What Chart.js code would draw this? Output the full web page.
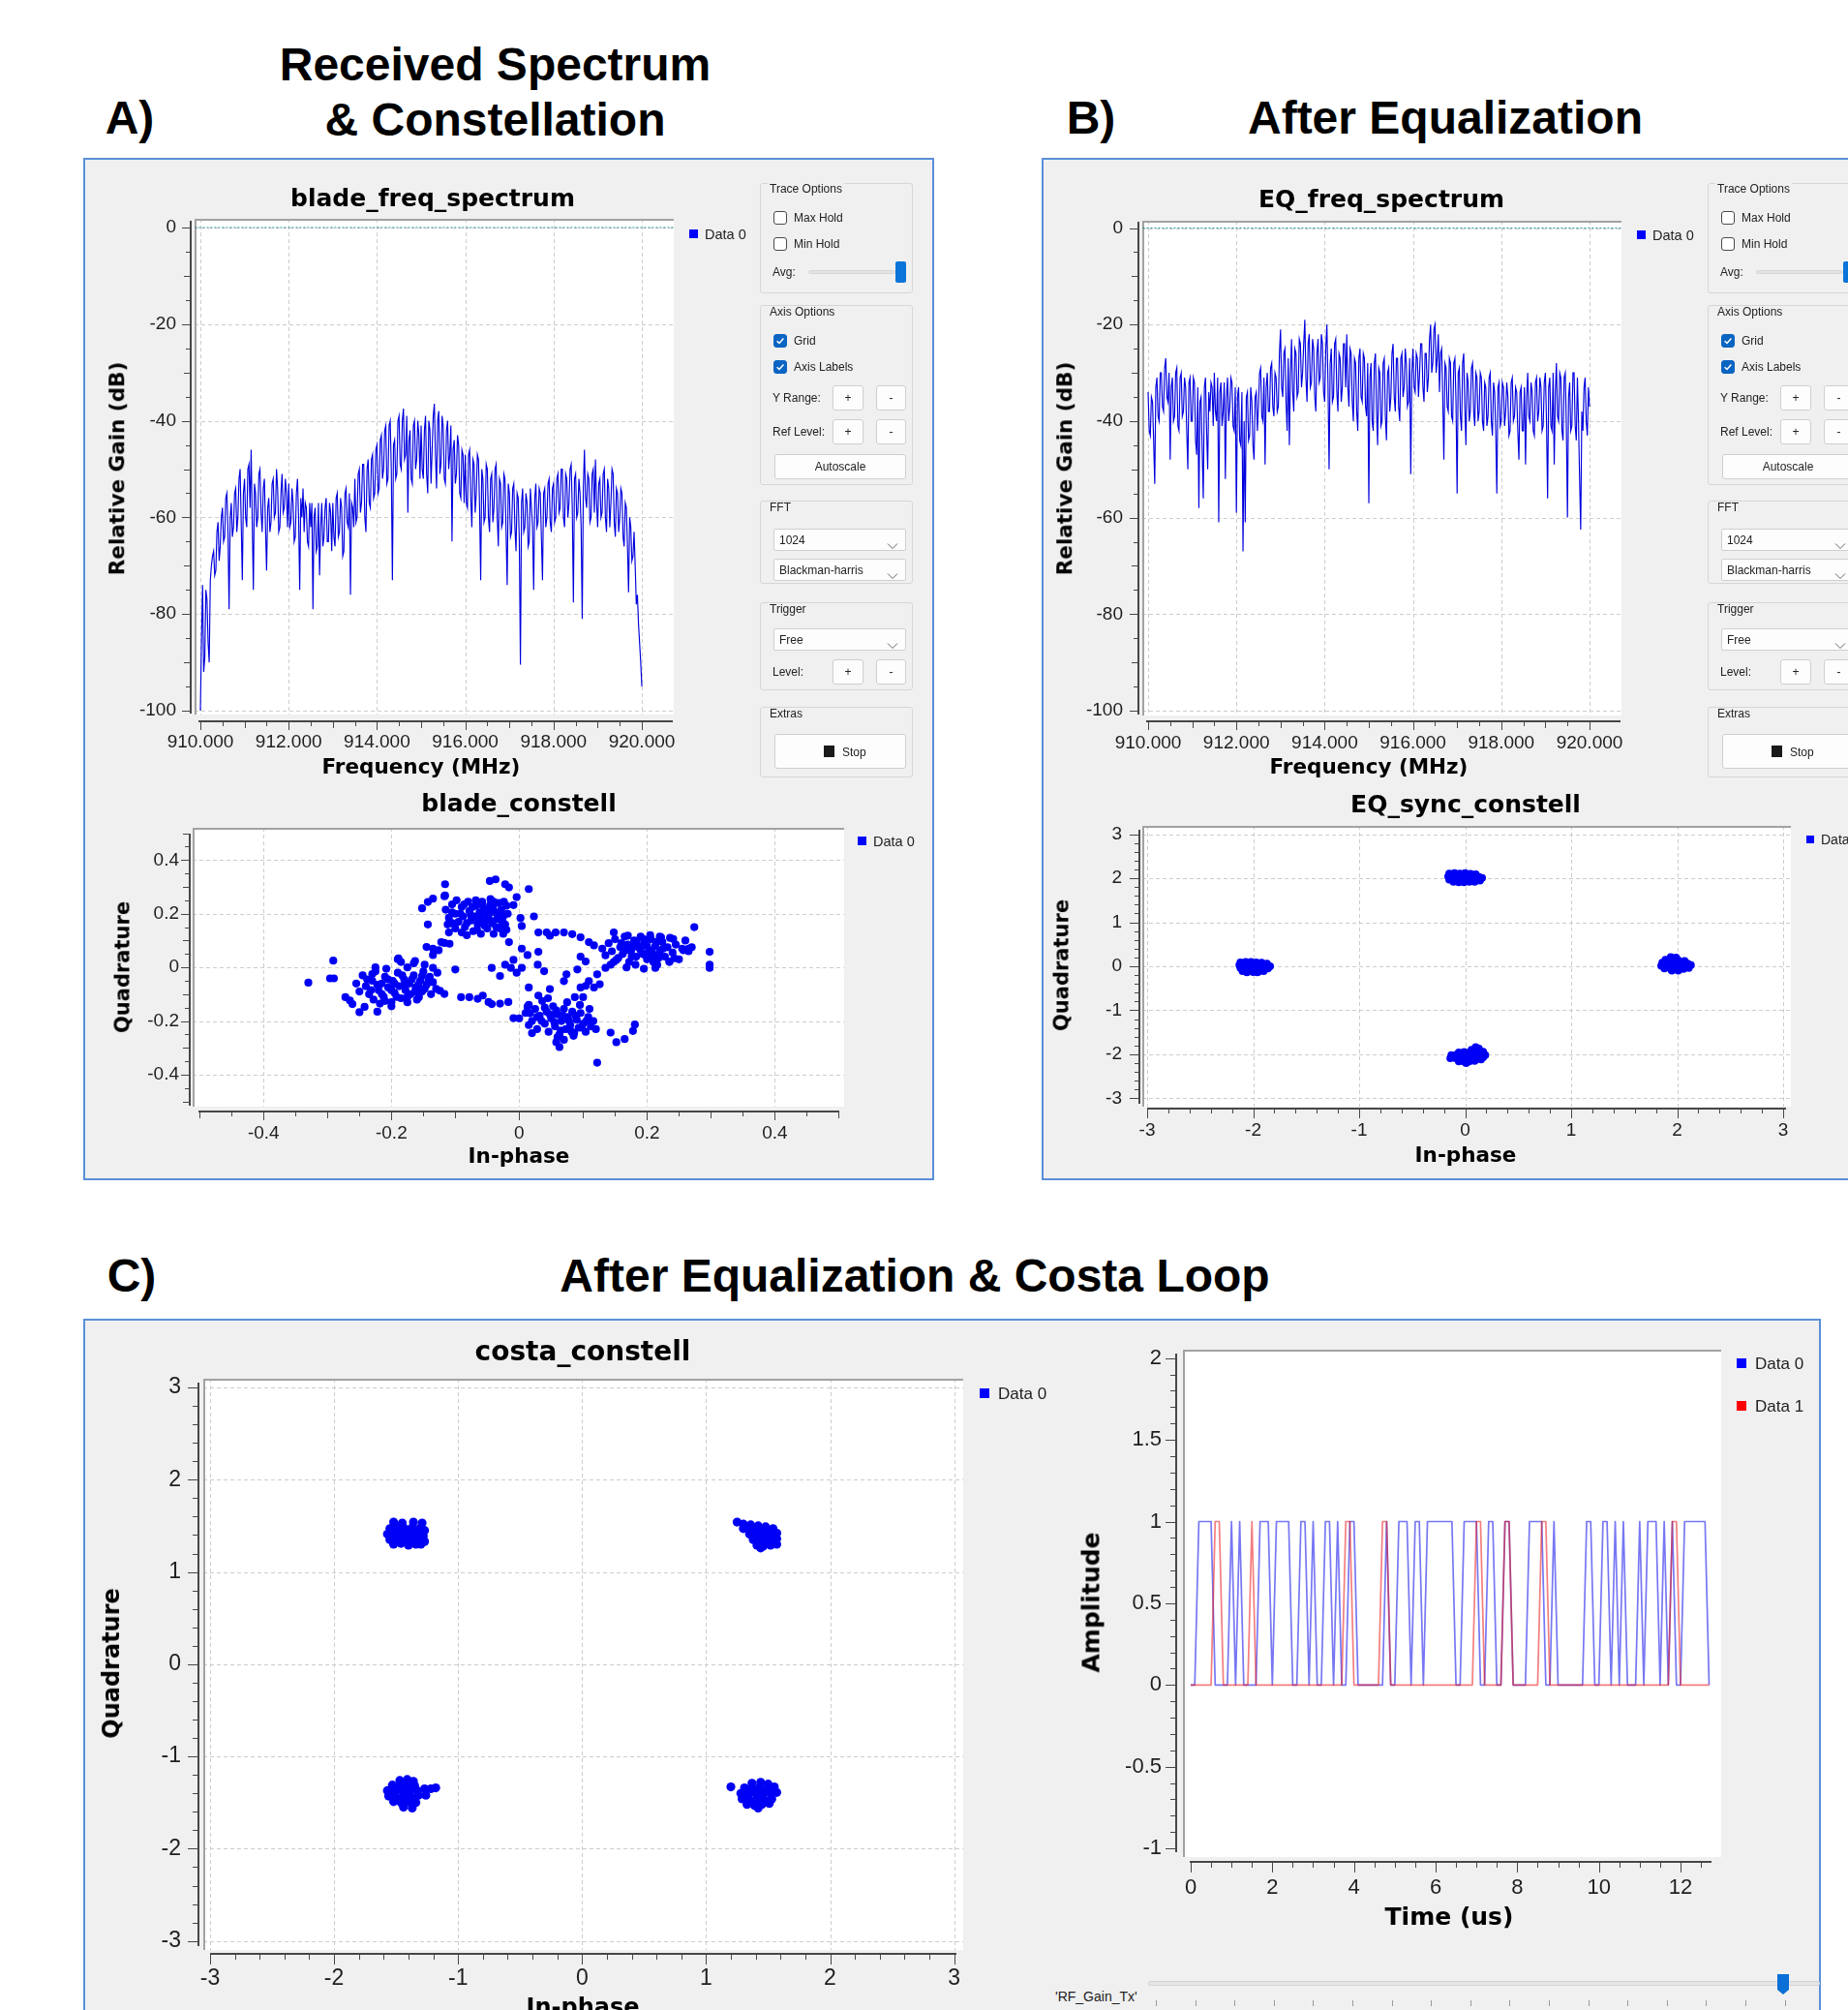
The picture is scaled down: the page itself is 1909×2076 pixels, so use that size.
<!DOCTYPE html>
<html>
<head>
<meta charset="utf-8">
<title>Received Spectrum, Equalization and Costas Loop</title>
<script src="https://cdn.jsdelivr.net/npm/chart.js@4.4.1/dist/chart.umd.min.js"></script>
<style>
html,body{margin:0;padding:0;}
body{width:1909px;height:2076px;overflow:hidden;background:#ffffff;position:relative;font-family:"Liberation Sans",Arial,sans-serif;}
.panel{position:absolute;background:#f0f0f0;border:2px solid #5b8fd9;box-sizing:border-box;}
.t{position:absolute;white-space:nowrap;line-height:1;}
canvas{position:absolute;}
</style>
</head>
<body>
<div class="panel" style="left:86px;top:163px;width:879px;height:1056px"></div>
<div class="panel" style="left:1076px;top:163px;width:860px;height:1056px"></div>
<div class="panel" style="left:86px;top:1362px;width:1795px;height:760px"></div>
<script>
// ======================= DATA =======================
// Spectrum sinks (FFT bins, MHz / dB), one row = 0.5 MHz
const specFreqStartMHz = 910.0;
const specBinStepMHz = 0.025;
const bladeSpectrumDb = [
 -100,-85,-74,-92,-89,-75,-77,-86,-90,-73,-70,-68,-67,-72,-71,-63,-61,-69,-66,-60,
 -58,-65,-64,-56,-55,-63,-79,-60,-57,-64,-62,-55,-54,-63,-60,-52,-50,-61,-73,-55,
 -52,-60,-62,-50,-49,-58,-46,-61,-75,-53,-55,-62,-60,-51,-50,-59,-63,-54,-52,-62,
 -71,-58,-56,-63,-61,-53,-52,-60,-59,-50,-54,-63,-62,-55,-51,-59,-58,-52,-55,-62,
 -53,-62,-61,-54,-57,-65,-64,-55,-52,-60,-75,-56,-60,-54,-63,-57,-58,-65,-66,-57,
 -62,-57,-79,-60,-58,-67,-66,-57,-72,-62,-57,-66,-64,-58,-56,-65,-65,-57,-59,-67,
 -57,-64,-66,-56,-55,-64,-63,-56,-58,-68,-67,-55,-54,-61,-62,-55,-76,-57,-58,-62,
 -52,-61,-60,-51,-50,-59,-57,-49,-49,-60,-63,-50,-48,-57,-58,-48,-47,-56,-55,-46,
 -45,-55,-54,-44,-43,-52,-50,-42,-41,-53,-52,-41,-40,-50,-73,-45,-44,-52,-51,-40,
 -39,-49,-50,-40,-37.5,-48,-47,-39,-59,-44,-42,-52,-53,-41,-40,-50,-48,-40,-43,-52,
 -41,-50,-52,-42,-39,-51,-55,-40,-42,-53,-46,-39,-36.5,-47,-54,-40,-38,-51,-49,-39,
 -41,-52,-53,-42,-40,-50,-47,-41,-65,-46,-44,-53,-51,-43,-45,-55,-56,-46,-47,-57,
 -47,-57,-58,-47,-46,-56,-62,-48,-49,-59,-55,-47,-48,-58,-73,-50,-52,-61,-60,-49,
 -50,-60,-63,-52,-51,-61,-58,-50,-49,-60,-66,-52,-53,-62,-61,-51,-52,-63,-74,-53,
 -55,-64,-63,-54,-53,-62,-67,-55,-56,-65,-90.5,-57,-54,-63,-62,-55,-57,-66,-65,-54,
 -58,-62,-75,-56,-53,-62,-61,-54,-55,-64,-73,-55,-54,-62,-60,-53,-52,-61,-63,-54,
 -53,-61,-60,-52,-51,-59,-58,-50,-50,-60,-62,-51,-52,-60,-57,-50,-49,-58,-77.6,-52,
 -51,-60,-59,-52,-55,-62,-81,-54,-46,-56,-58,-51,-52,-61,-60,-51,-50,-59,-48,-57,
 -62,-53,-52,-60,-59,-51,-50,-60,-63,-52,-54,-62,-57,-50,-51,-61,-64,-54,-55,-63,
 -60,-54,-55,-64,-66,-57,-58,-66,-75.5,-60,-62,-69,-68,-63,-70,-78,-76,-82,-86,-90,
 -95];
const eqSpectrumDb = [
 -34,-42,-43,-35,-36,-44,-53,-33,-31,-39,-40,-30,-30,-37,-38,-29,-27,-35,-36,-30,
 -48,-33,-31,-40,-39,-30,-29,-41,-42,-31,-30,-39,-38,-31,-33,-42,-50,-32,-31,-40,
 -40,-31,-32,-44,-47,-33,-58,-36,-35,-46,-56,-33,-31,-42,-50,-34,-38,-32,-33,-41,
 -30,-38,-40,-31,-61,-34,-32,-41,-38,-32,-52,-35,-31,-40,-37,-31,-32,-41,-42,-33,
 -59,-35,-33,-44,-45,-34,-67,-40,-61,-35,-34,-44,-43,-33,-36,-45,-48,-35,-34,-42,
 -37,-30,-29,-39,-40,-31,-49,-33,-30,-38,-38,-29,-28,-37,-39,-30,-31,-38,-37,-26,
 -21,-33,-35,-26,-25,-36,-42,-27,-45,-30,-23,-34,-38,-25,-26,-35,-34,-23,-24,-33,
 -30,-24,-19,-31,-36,-24,-22,-33,-32,-23,-25,-35,-38,-26,-23,-32,-31,-22,-24,-34,
 -36,-25,-20,-32,-50,-28,-25,-36,-35,-24,-23,-34,-38,-26,-27,-36,-33,-24,-24,-33,
 -22,-33,-37,-25,-26,-36,-40,-27,-28,-38,-42,-27,-25,-35,-36,-26,-27,-37,-39,-28,
 -57,-31,-28,-40,-42,-28,-26,-38,-45,-29,-30,-41,-40,-28,-27,-39,-44,-30,-29,-38,
 -35,-26,-24,-35,-38,-27,-27,-37,-40,-27,-26,-35,-33,-25,-28,-37,-36,-27,-51,-30,
 -25,-33,-34,-26,-27,-35,-30,-24,-24,-33,-36,-26,-26,-34,-31,-23,-20,-30,-28,-21,
 -20,-30,-27,-22,-34,-26,-25,-35,-48,-28,-29,-37,-38,-27,-28,-39,-40,-28,-27,-36,
 -55,-30,-29,-39,-42,-28,-26,-37,-45,-30,-32,-40,-38,-29,-28,-38,-41,-30,-31,-40,
 -38,-30,-31,-40,-42,-32,-33,-41,-39,-31,-30,-40,-43,-32,-34,-42,-55,-33,-32,-41,
 -40,-32,-33,-41,-38,-32,-35,-43,-42,-32,-31,-40,-39,-33,-34,-42,-48,-34,-33,-42,
 -42,-33,-49,-35,-30,-39,-40,-32,-34,-42,-43,-32,-31,-40,-38,-31,-33,-42,-41,-32,
 -30,-40,-56,-33,-31,-41,-42,-30,-49,-34,-28,-39,-40,-30,-31,-42,-44,-31,-30,-41,
 -60,-35,-32,-42,-41,-30,-30,-41,-44,-31,-40,-52,-62.5,-38,-42,-33,-31,-40,-43,-33,
 -37];
const refLevelDb = 0;
const specFreqTicks = [910, 912, 914, 916, 918, 920];
const specFreqTickLabels = ['910.000','912.000','914.000','916.000','918.000','920.000'];
const specGainTicks = [-100, -80, -60, -40, -20, 0];
const specGainTickLabels = ['-100','-80','-60','-40','-20','0'];

// blade_constell (In-phase, Quadrature)
const bladeConstellIQ = [
 // upper cluster
 [-0.115,0.215],[-0.105,0.235],[-0.1,0.2],[-0.095,0.17],[-0.09,0.225],[-0.088,0.19],[-0.085,0.15],[-0.08,0.245],[-0.078,0.21],[-0.075,0.175],
 [-0.072,0.135],[-0.07,0.19],[-0.068,0.23],[-0.065,0.16],[-0.062,0.205],[-0.06,0.125],[-0.058,0.245],[-0.055,0.18],[-0.052,0.215],[-0.05,0.145],
 [-0.048,0.195],[-0.045,0.235],[-0.042,0.165],[-0.04,0.125],[-0.038,0.205],[-0.035,0.18],[-0.032,0.24],[-0.03,0.145],[-0.028,0.215],[-0.025,0.19],
 [-0.022,0.16],[-0.02,0.23],[-0.09,0.13],[-0.082,0.12],[-0.1,0.145],[-0.11,0.185],[-0.068,0.25],[-0.045,0.255],[-0.025,0.125],[-0.018,0.2],
 [-0.112,0.16],[-0.105,0.205],[-0.098,0.25],[-0.092,0.2],[-0.086,0.235],[-0.082,0.165],[-0.076,0.195],[-0.073,0.225],[-0.066,0.14],[-0.063,0.175],
 [-0.057,0.23],[-0.054,0.155],[-0.05,0.2],[-0.046,0.175],[-0.041,0.22],[-0.036,0.15],[-0.033,0.195],[-0.027,0.17],[-0.024,0.245],[-0.02,0.14],
 [-0.105,0.165],[-0.06,0.19],[-0.04,0.245],
 // left cluster
 [-0.245,-0.03],[-0.24,-0.07],[-0.235,-0.1],[-0.23,-0.05],[-0.228,-0.12],[-0.225,-0.015],[-0.22,-0.085],[-0.215,-0.06],[-0.212,-0.11],[-0.21,-0.035],
 [-0.205,-0.075],[-0.2,-0.13],[-0.198,-0.05],[-0.195,-0.095],[-0.19,-0.02],[-0.188,-0.07],[-0.185,-0.115],[-0.18,-0.045],[-0.178,-0.085],[-0.175,0.0],
 [-0.172,-0.06],[-0.17,-0.1],[-0.165,-0.03],[-0.162,-0.075],[-0.16,-0.12],[-0.155,-0.05],[-0.152,-0.09],[-0.15,-0.015],[-0.145,-0.065],[-0.14,-0.035],
 [-0.138,-0.1],[-0.135,-0.055],[-0.13,-0.08],[-0.128,-0.02],[-0.25,-0.09],[-0.208,-0.005],[-0.185,0.02],[-0.19,0.03],[-0.165,0.015],[-0.225,0.0],
 [-0.255,-0.06],[-0.218,-0.135],[-0.2,-0.145],[-0.175,-0.13],[-0.238,-0.045],[-0.232,-0.085],[-0.222,-0.065],[-0.215,-0.1],[-0.205,-0.045],[-0.2,-0.085],
 [-0.195,-0.06],[-0.192,-0.11],[-0.183,-0.03],[-0.18,-0.065],[-0.175,-0.11],[-0.168,-0.045],[-0.163,-0.09],[-0.158,-0.065],[-0.148,-0.08],[-0.142,-0.05],
 [-0.21,-0.125],[-0.23,-0.025],
 // right cluster
 [0.13,0.07],[0.135,0.045],[0.14,0.09],[0.145,0.06],[0.15,0.105],[0.155,0.035],[0.158,0.075],[0.162,0.05],[0.165,0.115],[0.17,0.085],
 [0.172,0.02],[0.175,0.06],[0.18,0.1],[0.183,0.04],[0.186,0.075],[0.19,0.115],[0.193,0.05],[0.196,0.09],[0.2,0.03],[0.203,0.065],
 [0.206,0.105],[0.21,0.045],[0.213,0.08],[0.216,0.01],[0.22,0.06],[0.224,0.095],[0.228,0.04],[0.232,0.075],[0.236,0.11],[0.24,0.055],
 [0.245,0.085],[0.25,0.03],[0.255,0.07],[0.26,0.1],[0.168,0.0],[0.182,0.01],[0.195,-0.005],[0.205,0.12],[0.148,0.02],[0.265,0.06],
 [0.27,0.075],[0.235,0.02],[0.22,0.115],[0.16,0.09],[0.168,0.065],[0.176,0.04],[0.184,0.09],[0.19,0.065],[0.198,0.045],[0.2,0.08],
 [0.208,0.055],[0.215,0.095],[0.218,0.035],[0.225,0.07],[0.178,0.078],[0.195,0.105],[0.21,0.02],
 // lower cluster
 [0.01,-0.17],[0.015,-0.14],[0.02,-0.2],[0.025,-0.155],[0.028,-0.23],[0.032,-0.18],[0.036,-0.125],[0.04,-0.21],[0.043,-0.165],[0.046,-0.24],
 [0.05,-0.19],[0.053,-0.145],[0.056,-0.22],[0.06,-0.175],[0.063,-0.25],[0.066,-0.2],[0.07,-0.155],[0.073,-0.23],[0.076,-0.185],[0.08,-0.215],
 [0.083,-0.165],[0.086,-0.245],[0.09,-0.195],[0.093,-0.225],[0.096,-0.17],[0.1,-0.21],[0.104,-0.24],[0.108,-0.185],[0.112,-0.22],[0.116,-0.2],
 [0.12,-0.23],[0.045,-0.115],[0.03,-0.105],[0.075,-0.13],[0.095,-0.14],[0.06,-0.26],[0.07,-0.27],[0.11,-0.155],[0.0,-0.19],[0.02,-0.245],
 [0.085,-0.255],[0.035,-0.2],[0.04,-0.15],[0.048,-0.175],[0.055,-0.205],[0.058,-0.16],[0.065,-0.235],[0.068,-0.18],[0.078,-0.2],[0.082,-0.24],
 [0.088,-0.18],[0.098,-0.225],[0.105,-0.2],[0.028,-0.185],[0.015,-0.215],
 // transitions and outliers
 [-0.33,-0.057],[-0.291,0.025],[-0.296,-0.041],[-0.29,-0.041],[-0.272,-0.111],[-0.265,-0.123],[-0.261,-0.137],[-0.25,-0.167],[-0.222,-0.165],[-0.242,-0.147],
 [-0.189,0.034],[-0.163,0.024],[-0.148,0.01],[-0.152,-0.032],[-0.135,-0.002],[-0.157,-0.111],[-0.124,-0.087],[-0.117,-0.099],[-0.1,-0.008],
 [-0.145,0.076],[-0.135,0.07],[-0.126,0.064],[-0.117,0.091],[-0.109,0.088],[-0.11,0.13],[-0.135,0.046],[-0.122,0.094],
 [-0.152,0.22],[-0.143,0.244],[-0.135,0.256],[-0.117,0.265],[-0.116,0.31],[-0.116,0.268],[-0.143,0.16],[-0.046,0.322],[-0.037,0.328],[-0.022,0.31],
 [-0.016,0.298],[0.015,0.292],[-0.004,0.262],[-0.009,0.232],[-0.026,0.172],[-0.016,0.094],[0.002,0.184],[0.023,0.19],[0.004,0.154],[0.03,0.13],
 [-0.078,-0.111],[-0.057,-0.105],[-0.048,-0.129],[-0.03,-0.135],[-0.017,-0.129],[-0.043,-0.137],[-0.065,-0.117],[-0.091,-0.111],
 [0.004,0.07],[0.013,0.046],[0.004,-0.002],[-0.013,-0.002],[-0.043,-0.002],[-0.03,-0.032],[-0.022,0.01],[0.015,-0.075],[0.029,0.01],[0.039,-0.014],
 [0.03,0.058],[-0.004,-0.02],[-0.009,0.028],
 [0.043,0.13],[0.057,0.13],[0.07,0.13],[0.083,0.124],[0.096,0.112],[0.109,0.094],[0.117,0.082],[0.048,0.118],
 [0.048,-0.081],[0.07,-0.051],[0.091,-0.008],[0.096,0.04],[0.104,0.022],[0.1,-0.111],[0.122,-0.026],[0.135,-0.002],[0.143,0.01],[0.152,0.028],
 [0.109,-0.051],[0.117,-0.075],[0.126,-0.063],[0.087,-0.111],[0.104,-0.069],[0.096,-0.075],[0.074,-0.026],
 [0.274,0.15],[0.298,0.058],[0.298,0.01],[0.298,-0.002],[0.148,0.13],[0.17,0.118],[0.222,0.112],[0.241,0.106],[0.213,-0.002],[0.235,0.022],
 [0.243,0.034],[0.257,0.064],[0.265,0.07],
 [-0.009,-0.189],[0.013,-0.147],[0.017,-0.171],[0.063,-0.297],[0.143,-0.243],[0.152,-0.279],[0.165,-0.267],[0.178,-0.237],[0.181,-0.213],[0.122,-0.355],
 [0.058,-0.279]
];
const bladeIqTicks = [-0.4, -0.2, 0, 0.2, 0.4];
const bladeIqTickLabels = ['-0.4','-0.2','0','0.2','0.4'];

// EQ_sync_constell
const eqSyncConstellIQ = [
 [-0.15,2.11],[-0.1,2.12],[-0.05,2.11],[0.0,2.12],[0.05,2.1],[0.1,2.09],[-0.16,2.04],[-0.11,2.05],[-0.06,2.04],[-0.01,2.05],
 [0.04,2.04],[0.09,2.03],[0.13,2.03],[0.16,2.01],[-0.15,1.97],[-0.1,1.98],[-0.05,1.97],[0.0,1.98],[0.05,1.97],[0.1,1.96],
 [0.14,1.95],[-0.11,1.92],[-0.06,1.91],[-0.01,1.91],[0.04,1.92],[0.09,1.92],
 [-2.12,0.09],[-2.07,0.1],[-2.02,0.1],[-1.97,0.09],[-1.92,0.08],[-1.87,0.06],[-2.13,0.03],[-2.08,0.04],[-2.03,0.03],[-1.98,0.02],
 [-1.93,0.03],[-1.88,0.01],[-1.84,0.0],[-2.12,-0.04],[-2.07,-0.03],[-2.02,-0.05],[-1.97,-0.04],[-1.92,-0.06],[-1.86,-0.05],[-2.1,-0.11],
 [-2.05,-0.12],[-2.0,-0.13],[-1.95,-0.12],[-1.9,-0.11],[-2.06,-0.14],[-1.96,-0.14],
 [1.94,0.21],[1.99,0.2],[1.89,0.15],[1.95,0.15],[2.01,0.14],[2.07,0.12],[1.86,0.08],[1.92,0.08],[1.98,0.07],[2.04,0.08],
 [2.1,0.06],[2.13,0.03],[1.85,0.01],[1.91,0.0],[1.97,0.01],[2.03,0.0],[2.09,-0.01],[1.88,-0.05],[1.94,-0.06],[2.0,-0.05],
 [2.06,-0.06],[2.11,-0.04],[1.95,-0.1],[2.01,-0.1],
 [0.1,-1.84],[0.13,-1.87],[0.06,-1.9],[0.12,-1.92],[0.17,-1.94],[-0.06,-1.96],[-0.01,-1.95],[0.04,-1.96],[0.09,-1.97],[0.15,-1.99],
 [0.19,-2.02],[-0.13,-2.02],[-0.08,-2.01],[-0.03,-2.03],[0.02,-2.02],[0.07,-2.03],[0.12,-2.04],[0.17,-2.07],[-0.14,-2.09],[-0.09,-2.09],
 [-0.04,-2.1],[0.01,-2.09],[0.06,-2.1],[0.11,-2.11],[0.15,-2.12],[-0.06,-2.16],[-0.01,-2.17],[0.04,-2.16],[0.09,-2.15],[0.01,-2.2]
];
// costa_constell
const costaConstellIQ = [
 [-1.52,1.54],[-1.45,1.53],[-1.36,1.54],[-1.29,1.53],[-1.55,1.47],[-1.49,1.48],[-1.43,1.47],[-1.37,1.48],[-1.31,1.47],[-1.27,1.45],
 [-1.57,1.41],[-1.51,1.42],[-1.45,1.41],[-1.39,1.42],[-1.33,1.41],[-1.28,1.39],[-1.55,1.35],[-1.49,1.36],[-1.43,1.35],[-1.37,1.36],
 [-1.31,1.35],[-1.27,1.33],[-1.52,1.3],[-1.46,1.31],[-1.4,1.29],[-1.34,1.3],[-1.3,1.3],
 [1.25,1.54],[1.3,1.52],[1.36,1.51],[1.42,1.5],[1.48,1.49],[1.54,1.47],[1.3,1.47],[1.35,1.46],[1.41,1.45],[1.47,1.44],
 [1.53,1.43],[1.57,1.42],[1.35,1.41],[1.4,1.4],[1.46,1.39],[1.52,1.38],[1.57,1.36],[1.38,1.35],[1.43,1.34],[1.49,1.33],
 [1.55,1.32],[1.41,1.29],[1.46,1.28],[1.52,1.29],[1.44,1.26],[1.57,1.3],
 [-1.47,-1.26],[-1.41,-1.25],[-1.36,-1.27],[-1.53,-1.31],[-1.47,-1.32],[-1.41,-1.31],[-1.35,-1.32],[-1.57,-1.37],[-1.51,-1.38],[-1.45,-1.37],
 [-1.39,-1.38],[-1.33,-1.37],[-1.27,-1.35],[-1.22,-1.35],[-1.18,-1.34],[-1.56,-1.43],[-1.5,-1.44],[-1.44,-1.43],[-1.38,-1.44],[-1.32,-1.42],
 [-1.26,-1.42],[-1.52,-1.49],[-1.46,-1.5],[-1.4,-1.49],[-1.34,-1.5],[-1.44,-1.55],[-1.37,-1.56],
 [1.2,-1.33],[1.37,-1.29],[1.44,-1.28],[1.5,-1.3],[1.31,-1.34],[1.37,-1.35],[1.43,-1.34],[1.49,-1.35],[1.55,-1.33],[1.28,-1.4],
 [1.34,-1.41],[1.4,-1.4],[1.46,-1.41],[1.52,-1.4],[1.57,-1.39],[1.29,-1.46],[1.35,-1.47],[1.41,-1.46],[1.47,-1.47],[1.53,-1.46],
 [1.33,-1.52],[1.39,-1.53],[1.45,-1.52],[1.51,-1.51],[1.42,-1.56]
];
const unitIqTicks = [-3, -2, -1, 0, 1, 2, 3];
const unitIqTickLabels = ['-3','-2','-1','0','1','2','3'];

// Time sink: decided bits, one sample every 0.1 us
const timeSampleStepUs = 0.1;
const costaBitsData0 = [
 0,0,1,1,1,1,0,0,0,0, 1,0,1,0,0,0,0,1,1,1, 0,1,1,1,1,0,0,1,1,0, 1,0,0,1,1,0,1,0,0,1,
 1,0,0,0,0,0,0,0,1,0, 0,1,1,1,0,1,1,0,1,1, 1,1,1,1,1,0,0,1,1,1, 1,0,0,1,1,0,0,1,1,0,
 0,0,0,1,1,1,1,0,0,1, 0,0,0,0,0,0,0,1,1,0, 0,1,1,0,1,0,1,0,0,0, 1,0,1,1,1,0,1,0,1,0,
 0,1,1,1,1,1,1,0];
const costaBitsData1 = [
 0,0,0,0,0,0,1,1,0,0, 0,0,0,0,0,1,0,0,0,0, 0,0,0,0,0,0,0,0,0,0, 0,0,0,0,0,0,0,0,1,1,
 0,0,0,0,0,0,0,1,1,0, 0,0,0,0,0,0,0,0,0,0, 0,0,0,0,0,0,0,0,0,0, 1,1,0,0,0,0,0,1,1,0,
 0,0,0,0,0,0,1,1,0,0, 0,0,0,0,0,0,0,0,0,0, 0,0,0,0,0,0,0,0,0,0, 0,0,0,0,0,0,0,0,1,1,
 0,0,0,0,0,0,0,0];
const timeTicks = [0, 2, 4, 6, 8, 10, 12];
const timeTickLabels = ['0','2','4','6','8','10','12'];
const ampTicks = [-1, -0.5, 0, 0.5, 1, 1.5, 2];
const ampTickLabels = ['-1','-0.5','0','0.5','1','1.5','2'];

// ======================= HELPERS =======================
const TICK_FAMILY = '"Liberation Sans", Arial, sans-serif';
const UI_FONT = '12px/1 "Liberation Sans", Arial, sans-serif';
const HEAD = 'bold 48px/1 "Liberation Sans", Arial, sans-serif';
const BOLD = s => 'bold ' + s + 'px/1 "DejaVu Sans", Verdana, sans-serif';

function el(tag, css, html) {
  const d = document.createElement(tag);
  d.style.cssText = css;
  if (html !== undefined) d.innerHTML = html;
  document.body.appendChild(d);
  return d;
}
function box(x, y, w, h, css) {
  return el('div', 'position:absolute;left:' + x + 'px;top:' + y + 'px;width:' + w + 'px;height:' + h + 'px;box-sizing:border-box;' + (css || ''));
}
function text(str, x, y, font, opt) {
  opt = opt || {};
  const d = document.createElement('div');
  d.className = 't';
  d.textContent = str;
  d.style.left = x + 'px';
  d.style.top = y + 'px';
  d.style.font = font;
  d.style.color = opt.color || '#000';
  const ax = opt.ax === undefined ? 0.5 : opt.ax;
  d.style.transform = opt.rot ? 'translate(-50%,-50%) rotate(' + opt.rot + 'deg)' : 'translate(' + (-ax * 100) + '%,-50%)';
  if (opt.bg) { d.style.background = opt.bg; d.style.padding = '0 2px'; }
  document.body.appendChild(d);
  return d;
}
function tickList(from, to, minor, major, medium) {
  const out = [], n = Math.round((to - from) / minor);
  for (let i = 0; i <= n; i++) {
    const v = from + i * minor;
    const r = v / major;
    let k = 2;
    if (Math.abs(r - Math.round(r)) < 1e-6) k = 0;
    else if (medium && Math.abs(2 * r - Math.round(2 * r)) < 1e-6) k = 1;
    out.push({ v: v, k: k });
  }
  return out;
}
function qwtDecor(q) {
  return {
    id: 'qwtDecor',
    beforeDatasetsDraw(chart) {
      const ctx = chart.ctx, a = chart.chartArea, xs = chart.scales.x, ys = chart.scales.y;
      ctx.save();
      ctx.fillStyle = '#ffffff';
      ctx.fillRect(a.left, a.top, a.right - a.left, a.bottom - a.top);
      if (q.grid) {
        ctx.strokeStyle = '#cdcdcd'; ctx.lineWidth = 1; ctx.setLineDash([4, 3]);
        ctx.beginPath();
        q.xTicks.forEach(v => { const p = Math.round(xs.getPixelForValue(v)) + 0.5; ctx.moveTo(p, a.top); ctx.lineTo(p, a.bottom); });
        q.yTicks.forEach(v => { const p = Math.round(ys.getPixelForValue(v)) + 0.5; ctx.moveTo(a.left, p); ctx.lineTo(a.right, p); });
        ctx.stroke();
        ctx.setLineDash([]);
      }
      ctx.fillStyle = '#a2a2a2';
      ctx.fillRect(a.left, a.top, a.right - a.left, 2);
      ctx.fillRect(a.left, a.top, 2, a.bottom - a.top);
      ctx.restore();
    },
    afterDraw(chart) {
      const ctx = chart.ctx, xs = chart.scales.x, ys = chart.scales.y;
      ctx.save();
      ctx.fillStyle = '#474747';
      ctx.fillRect(q.xb.x0, q.xb.y, q.xb.x1 - q.xb.x0, 2);
      ctx.fillRect(q.yb.x - 2, q.yb.y0, 2, q.yb.y1 - q.yb.y0);
      ctx.strokeStyle = '#474747'; ctx.lineWidth = 1;
      ctx.beginPath();
      tickList(q.xFrom, q.xTo, q.xMinor, q.xMajorStep, q.medium).forEach(t => {
        const p = Math.round(xs.getPixelForValue(t.v)) + 0.5;
        ctx.moveTo(p, q.xb.y + 2); ctx.lineTo(p, q.xb.y + 2 + q.len[t.k]);
      });
      tickList(q.yFrom, q.yTo, q.yMinor, q.yMajorStep, q.medium).forEach(t => {
        const p = Math.round(ys.getPixelForValue(t.v)) + 0.5;
        ctx.moveTo(q.yb.x - 2, p); ctx.lineTo(q.yb.x - 2 - q.len[t.k], p);
      });
      ctx.stroke();
      ctx.restore();
    }
  };
}
function makePlot(p) {
  const cv = document.createElement('canvas');
  cv.width = p.cw; cv.height = p.ch;
  cv.style.left = p.cx + 'px'; cv.style.top = p.cy + 'px';
  cv.style.width = p.cw + 'px'; cv.style.height = p.ch + 'px';
  document.body.appendChild(cv);
  const a = p.area;
  const padTop = a.t - p.cy, padRight = (p.cx + p.cw) - a.r;
  const yAxisW = a.l - p.cx, xAxisH = (p.cy + p.ch) - a.b;
  const xPad = p.xLabelCY - a.b - p.tickSize * 0.6;
  const yPad = a.l - p.yLabelRX;
  const kx = (p.xMap[2] - p.xMap[0]) / (p.xMap[3] - p.xMap[1]);
  const ky = (p.yMap[2] - p.yMap[0]) / (p.yMap[3] - p.yMap[1]);
  const xMin = p.xMap[0] + (a.l - p.xMap[1]) * kx, xMax = p.xMap[0] + (a.r - p.xMap[1]) * kx;
  const yMax = p.yMap[0] + (a.t - p.yMap[1]) * ky, yMin = p.yMap[0] + (a.b - p.yMap[1]) * ky;
  const q = {
    grid: p.grid, xTicks: p.xTicks, yTicks: p.yTicks, medium: p.medium, len: p.len,
    xFrom: p.xFrom, xTo: p.xTo, xMinor: p.xMinor, xMajorStep: p.xMajorStep,
    yFrom: p.yFrom, yTo: p.yTo, yMinor: p.yMinor, yMajorStep: p.yMajorStep,
    xb: { y: p.xBack.y - p.cy, x0: p.xBack.x0 - p.cx, x1: p.xBack.x1 - p.cx },
    yb: { x: p.yBack.x - p.cx, y0: p.yBack.y0 - p.cy, y1: p.yBack.y1 - p.cy }
  };
  return new Chart(cv, {
    type: 'scatter',
    data: { datasets: p.datasets },
    options: {
      responsive: false, animation: false, events: [], devicePixelRatio: 1,
      layout: { padding: { left: 0, top: padTop, right: padRight, bottom: 0 } },
      plugins: { legend: { display: false }, tooltip: { enabled: false } },
      scales: {
        x: {
          type: 'linear', position: 'bottom', min: xMin, max: xMax,
          grid: { display: false, drawTicks: false }, border: { display: false },
          afterBuildTicks: s => { s.ticks = p.xTicks.map(v => ({ value: v })); },
          afterFit: s => { s.height = xAxisH; },
          ticks: { padding: xPad, autoSkip: false, maxRotation: 0, minRotation: 0, color: '#1e1e1e',
            font: { family: TICK_FAMILY, size: p.tickSize }, callback: (v, i) => p.xLabels[i] }
        },
        y: {
          type: 'linear', position: 'left', min: yMin, max: yMax,
          grid: { display: false, drawTicks: false }, border: { display: false },
          afterBuildTicks: s => { s.ticks = p.yTicks.map(v => ({ value: v })); },
          afterFit: s => { s.width = yAxisW; },
          ticks: { padding: yPad, autoSkip: false, color: '#1e1e1e',
            font: { family: TICK_FAMILY, size: p.tickSize }, callback: (v, i) => p.yLabels[i] }
        }
      }
    },
    plugins: [qwtDecor(q)]
  });
}
const toSpectrum = arr => arr.map((v, i) => ({ x: specFreqStartMHz + i * specBinStepMHz, y: v }));
const toTime = arr => arr.map((v, k) => ({ x: k * timeSampleStepUs, y: v }));
const toIQ = arr => arr.map(pt => ({ x: pt[0], y: pt[1] }));
function refLine() {
  return { data: [{ x: 909, y: refLevelDb }, { x: 922, y: refLevelDb }], showLine: true, pointRadius: 0,
    borderColor: 'rgba(0,128,128,0.85)', borderWidth: 1, borderDash: [2, 2] };
}
function specSet(arr) {
  return { data: toSpectrum(arr), showLine: true, pointRadius: 0, borderColor: 'rgb(0,0,222)', borderWidth: 1.15, tension: 0 };
}
function iqSet(arr, r) {
  return { data: toIQ(arr), pointRadius: r, pointHoverRadius: r, backgroundColor: '#0000f4', borderWidth: 0, pointStyle: 'circle' };
}
function legendItem(x, y, size, color, label, fs, gap) {
  box(x, y, size, size, 'background:' + color + ';');
  text(label, x + size + gap, y + size / 2, fs + 'px/1 ' + TICK_FAMILY, { ax: 0, color: '#222' });
}

// ======================= HEADINGS =======================
text('Received Spectrum', 511.5, 66.5, HEAD);
text('& Constellation', 511.5, 123.5, HEAD);
text('A)', 134, 122, HEAD);
text('B)', 1127, 122, HEAD);
text('After Equalization', 1493, 122, HEAD);
text('C)', 136, 1318, HEAD);
text('After Equalization & Costa Loop', 945, 1318, HEAD);

// ======================= PLOTS =======================
// A: blade_freq_spectrum
makePlot({
  cx: 100, cy: 180, cw: 640, ch: 620, area: { l: 201, t: 226, r: 696, b: 738 },
  xMap: [910, 207, 920, 663], yMap: [0, 235, -100, 734],
  xTicks: specFreqTicks, xLabels: specFreqTickLabels, yTicks: specGainTicks, yLabels: specGainTickLabels,
  tickSize: 19, xLabelCY: 767, yLabelRX: 182, grid: true, medium: true, len: [8, 6, 4],
  xFrom: 910, xTo: 920, xMinor: 0.5, xMajorStep: 2, yFrom: -100, yTo: 0, yMinor: 5, yMajorStep: 20,
  xBack: { y: 744, x0: 205, x1: 695 }, yBack: { x: 198, y0: 228, y1: 737 },
  datasets: [refLine(), specSet(bladeSpectrumDb)]
});
// B: EQ_freq_spectrum
makePlot({
  cx: 1079, cy: 180, cw: 640, ch: 620, area: { l: 1180, t: 228, r: 1675, b: 739 },
  xMap: [910, 1186, 920, 1642], yMap: [0, 235.5, -100, 734],
  xTicks: specFreqTicks, xLabels: specFreqTickLabels, yTicks: specGainTicks, yLabels: specGainTickLabels,
  tickSize: 19, xLabelCY: 767.5, yLabelRX: 1160, grid: true, medium: true, len: [8, 6, 4],
  xFrom: 910, xTo: 920, xMinor: 0.5, xMajorStep: 2, yFrom: -100, yTo: 0, yMinor: 5, yMajorStep: 20,
  xBack: { y: 744, x0: 1184, x1: 1674 }, yBack: { x: 1177, y0: 229, y1: 738 },
  datasets: [refLine(), specSet(eqSpectrumDb)]
});
// A: blade_constell
makePlot({
  cx: 100, cy: 810, cw: 810, ch: 400, area: { l: 199, t: 855, r: 872, b: 1143 },
  xMap: [-0.4, 272.3, 0.4, 800.4], yMap: [0.4, 888.3, -0.4, 1110],
  xTicks: bladeIqTicks, xLabels: bladeIqTickLabels, yTicks: bladeIqTicks, yLabels: bladeIqTickLabels,
  tickSize: 19, xLabelCY: 1170.5, yLabelRX: 185, grid: true, medium: true, len: [8, 6, 4],
  xFrom: -0.5, xTo: 0.5, xMinor: 0.05, xMajorStep: 0.2, yFrom: -0.5, yTo: 0.5, yMinor: 0.05, yMajorStep: 0.2,
  xBack: { y: 1147, x0: 205, x1: 867 }, yBack: { x: 197, y0: 861, y1: 1142 },
  datasets: [iqSet(bladeConstellIQ, 4.1)]
});
// B: EQ_sync_constell
makePlot({
  cx: 1085, cy: 810, cw: 824, ch: 400, area: { l: 1180, t: 853, r: 1850, b: 1143 },
  xMap: [-3, 1185, 3, 1842], yMap: [3, 861.7, -3, 1134.3],
  xTicks: unitIqTicks, xLabels: unitIqTickLabels, yTicks: unitIqTicks, yLabels: unitIqTickLabels,
  tickSize: 19, xLabelCY: 1168, yLabelRX: 1159, grid: true, medium: false, len: [9, 6, 4],
  xFrom: -3, xTo: 3, xMinor: 0.2, xMajorStep: 1, yFrom: -3, yTo: 3, yMinor: 0.2, yMajorStep: 1,
  xBack: { y: 1144, x0: 1185, x1: 1845 }, yBack: { x: 1178, y0: 857, y1: 1140 },
  datasets: [iqSet(eqSyncConstellIQ, 4.0)]
});
// C: costa_constell
makePlot({
  cx: 95, cy: 1380, cw: 950, ch: 696, area: { l: 210, t: 1424, r: 995, b: 2014 },
  xMap: [-3, 217, 3, 985.6], yMap: [3, 1433, -3, 2004.7],
  xTicks: unitIqTicks, xLabels: unitIqTickLabels, yTicks: unitIqTicks, yLabels: unitIqTickLabels,
  tickSize: 23, xLabelCY: 2044, yLabelRX: 187, grid: true, medium: false, len: [10, 7, 5],
  xFrom: -3, xTo: 3, xMinor: 0.2, xMajorStep: 1, yFrom: -3, yTo: 3, yMinor: 0.2, yMajorStep: 1,
  xBack: { y: 2017, x0: 217, x1: 988 }, yBack: { x: 206, y0: 1428, y1: 2010 },
  datasets: [iqSet(costaConstellIQ, 4.6)]
});
// C: time sink
makePlot({
  cx: 1110, cy: 1350, cw: 720, ch: 640, area: { l: 1222, t: 1394, r: 1778, b: 1918 },
  xMap: [0, 1230, 12, 1736], yMap: [2, 1402.7, -1, 1909.1],
  xTicks: timeTicks, xLabels: timeTickLabels, yTicks: ampTicks, yLabels: ampTickLabels,
  tickSize: 22, xLabelCY: 1950, yLabelRX: 1200, grid: false, medium: false, len: [10, 7, 5],
  xFrom: 0, xTo: 12.5, xMinor: 0.5, xMajorStep: 2, yFrom: -1, yTo: 2, yMinor: 0.1, yMajorStep: 0.5,
  xBack: { y: 1922, x0: 1229, x1: 1768 }, yBack: { x: 1216, y0: 1398, y1: 1913 },
  datasets: [
    { label: 'Data 0', data: toTime(costaBitsData0), showLine: true, pointRadius: 0, borderColor: 'rgba(20,20,235,0.58)', borderWidth: 1.7, borderJoinStyle: 'round', order: 1 },
    { label: 'Data 1', data: toTime(costaBitsData1), showLine: true, pointRadius: 0, borderColor: 'rgba(235,20,20,0.55)', borderWidth: 1.7, borderJoinStyle: 'round', order: 0 }
  ]
});

// ======================= PLOT TITLES / AXIS LABELS =======================
text('blade_freq_spectrum', 447, 203.5, BOLD(25));
text('EQ_freq_spectrum', 1427, 204.5, BOLD(25));
text('blade_constell', 536, 829, BOLD(25));
text('EQ_sync_constell', 1514, 830, BOLD(25));
text('costa_constell', 602, 1396, BOLD(28));
text('Relative Gain (dB)', 120.5, 484, BOLD(21.5), { rot: -90 });
text('Frequency (MHz)', 435, 792, BOLD(21.5));
text('Relative Gain (dB)', 1099.5, 484, BOLD(21.5), { rot: -90 });
text('Frequency (MHz)', 1414, 792, BOLD(21.5));
text('Quadrature', 127, 999, BOLD(21), { rot: -90 });
text('In-phase', 536, 1194, BOLD(21.5));
text('Quadrature', 1097, 997, BOLD(21), { rot: -90 });
text('In-phase', 1514, 1193, BOLD(21.5));
text('Quadrature', 115, 1718, BOLD(24), { rot: -90 });
text('In-phase', 602, 2073, BOLD(24));
text('Amplitude', 1127, 1655, BOLD(25), { rot: -90 });
text('Time (us)', 1497, 1979, BOLD(25));

// legends
legendItem(712, 237, 9, '#0000ff', 'Data 0', 14.5, 7);
legendItem(1691, 238, 9, '#0000ff', 'Data 0', 14.5, 7);
legendItem(886, 864, 9, '#0000ff', 'Data 0', 14.5, 7);
legendItem(1866, 863, 8, '#0000ff', 'Data 0', 14, 7);
legendItem(1012, 1434, 10, '#0000ff', 'Data 0', 17, 9);
legendItem(1794, 1403, 10, '#0000ff', 'Data 0', 17, 9);
legendItem(1794, 1447, 10, '#ff0000', 'Data 1', 17, 9);

// ======================= CONTROL PANELS =======================
function group(x, top, bottom, label, labelY) {
  box(x, top, 158, bottom - top, 'border:1px solid #d6d6d6;border-radius:3px;');
  text(label, x + 8, labelY, UI_FONT, { ax: 0, bg: '#f0f0f0', color: '#222' });
}
function checkbox(x, y, on) {
  const b = box(x, y, 14, 14, on ? 'background:#0a64c2;border:1px solid #0a64c2;border-radius:3px;' : 'background:#ffffff;border:1px solid #4a4a4a;border-radius:3px;');
  if (on) b.innerHTML = '<svg width="12" height="12" viewBox="0 0 12 12" style="position:absolute;left:0;top:0"><path d="M2.6 6.2 L5 8.4 L9.4 3.6" stroke="#fff" stroke-width="1.5" fill="none"/></svg>';
}
function button(x, y, w, h, label) {
  box(x, y, w, h, 'background:#fdfdfd;border:1px solid #cfcfcf;border-radius:3px;');
  if (label) text(label, x + w / 2, y + h / 2, UI_FONT, { color: '#222' });
}
function combo(x, y, w, h, label) {
  box(x, y, w, h, 'background:#fdfdfd;border:1px solid #cfcfcf;border-radius:2px;');
  text(label, x + 6, y + h / 2, UI_FONT, { ax: 0, color: '#222' });
  el('div', 'position:absolute;left:' + (x + w - 20) + 'px;top:' + (y + h / 2 - 4) + 'px;width:12px;height:8px',
    '<svg width="12" height="8"><path d="M1 1.5 L6 6.5 L11 1.5" stroke="#666" stroke-width="1" fill="none"/></svg>');
}
function lbl(s, x, y) { text(s, x, y, UI_FONT, { ax: 0, color: '#222' }); }
function controlPanel(dx) {
  const X = v => v + dx;
  group(X(785), 189, 303, 'Trace Options', 195);
  checkbox(X(799), 218, false); lbl('Max Hold', X(820), 225);
  checkbox(X(799), 245, false); lbl('Min Hold', X(820), 252);
  lbl('Avg:', X(798), 281);
  box(X(835), 279, 90, 4, 'background:#e4e4e4;border:1px solid #d6d6d6;border-radius:2px;');
  box(X(925), 270, 11, 22, 'background:#0a74d8;border-radius:2px;');
  group(X(785), 315, 501, 'Axis Options', 322);
  checkbox(X(799), 345, true); lbl('Grid', X(820), 352);
  checkbox(X(799), 372, true); lbl('Axis Labels', X(820), 379);
  lbl('Y Range:', X(798), 411);
  button(X(860), 398, 32, 26, '+'); button(X(905), 398, 31, 26, '-');
  lbl('Ref Level:', X(798), 446);
  button(X(860), 433, 32, 26, '+'); button(X(905), 433, 31, 26, '-');
  button(X(800), 469, 136, 26, 'Autoscale');
  group(X(785), 517, 603, 'FFT', 524);
  combo(X(799), 546, 137, 23, '1024');
  combo(X(799), 577, 137, 23, 'Blackman-harris');
  group(X(785), 622, 713, 'Trigger', 629);
  combo(X(799), 649, 137, 23, 'Free');
  lbl('Level:', X(798), 694);
  button(X(860), 681, 32, 26, '+'); button(X(905), 681, 31, 26, '-');
  group(X(785), 730, 803, 'Extras', 737);
  button(X(800), 758, 136, 36, '');
  box(X(851), 770, 11, 12, 'background:#1a1a1a;');
  lbl('Stop', X(870), 776.5);
}
controlPanel(0);
controlPanel(979);

// ======================= RF GAIN SLIDER (panel C) =======================
text("'RF_Gain_Tx'", 1090, 2062, '14px/1 ' + TICK_FAMILY, { ax: 0, color: '#222' });
box(1186, 2046, 694, 5, 'background:#e6e6e6;border:1px solid #d4d4d4;border-radius:2px;');
for (let i = 0; i < 17; i++) {
  box(Math.round(1194 + i * 40.6), 2066, 1, 6, 'background:#9a9a9a;');
}
el('div', 'position:absolute;left:1836px;top:2038px;width:12px;height:23px',
  '<svg width="12" height="23"><polygon points="0,1 12,1 12,17 6,22 0,17" fill="#0a6fd6"/></svg>');
</script>
</body>
</html>
